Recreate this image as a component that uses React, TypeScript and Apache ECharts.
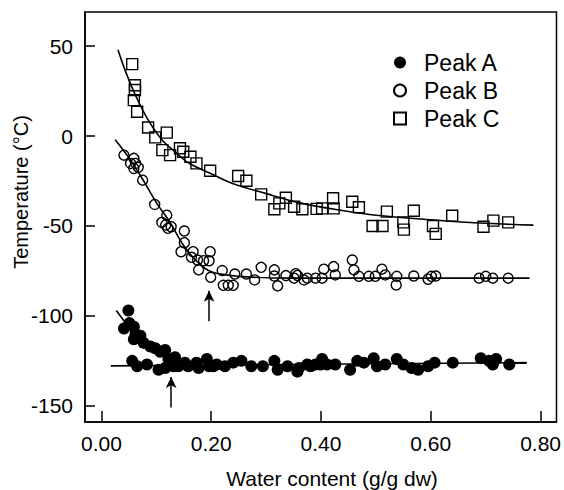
import React, { useEffect, useRef } from "react";
import * as echarts from "echarts";

const xTicks = [0, 0.2, 0.4, 0.6, 0.8];
const yTicks = [50, 0, -50, -100, -150];

const peakA: number[][] = [
  [0.049, -97], [0.041, -107], [0.051, -104], [0.059, -106], [0.062, -110], [0.071, -111],
  [0.059, -113], [0.077, -115], [0.089, -117], [0.098, -118], [0.107, -120], [0.116, -119],
  [0.122, -124], [0.134, -123],
  [0.056, -125], [0.065, -128], [0.083, -127], [0.104, -130], [0.116, -129], [0.131, -128],
  [0.140, -128], [0.152, -126], [0.158, -128], [0.173, -126], [0.177, -129], [0.192, -124],
  [0.196, -128], [0.204, -128], [0.210, -127], [0.225, -128], [0.240, -126], [0.255, -125],
  [0.273, -128], [0.294, -128], [0.315, -125], [0.321, -130], [0.339, -128], [0.357, -131],
  [0.360, -129], [0.375, -127], [0.381, -128], [0.390, -127], [0.399, -127], [0.402, -124],
  [0.411, -127], [0.426, -127], [0.453, -130], [0.466, -125], [0.478, -126], [0.496, -123.5],
  [0.502, -128], [0.517, -127], [0.538, -124], [0.550, -127], [0.565, -129], [0.577, -130],
  [0.595, -128], [0.607, -126], [0.640, -126], [0.691, -123.5], [0.706, -125], [0.713, -127],
  [0.719, -124], [0.743, -127],
];

const peakB: number[][] = [
  [0.041, -10.6], [0.059, -12.4], [0.053, -15.2], [0.062, -15.2], [0.059, -18], [0.067, -17.4],
  [0.075, -24.5], [0.097, -38], [0.119, -44], [0.110, -48], [0.117, -49.4], [0.127, -50.4],
  [0.121, -51.3], [0.151, -52.8], [0.151, -59.3], [0.145, -64.3], [0.167, -64.3], [0.164, -67.4],
  [0.175, -68.9], [0.186, -69.3], [0.198, -64.3], [0.196, -69.3], [0.177, -74.4], [0.199, -78.5],
  [0.220, -74.8], [0.222, -83], [0.231, -83], [0.240, -83], [0.243, -76.7], [0.264, -76.7],
  [0.279, -80], [0.291, -73], [0.315, -74.4], [0.315, -77.8], [0.321, -83.3], [0.336, -77.6],
  [0.354, -76.5], [0.351, -79], [0.357, -77.5], [0.369, -80], [0.375, -79], [0.390, -79],
  [0.405, -74], [0.402, -79], [0.423, -72.6], [0.426, -77.2], [0.457, -68.9], [0.460, -74.4],
  [0.469, -78], [0.487, -78], [0.499, -78], [0.511, -74], [0.517, -77.2], [0.538, -78],
  [0.537, -82.8], [0.569, -77.8], [0.595, -79.6], [0.601, -78], [0.609, -77.8], [0.688, -79],
  [0.700, -78], [0.713, -79], [0.741, -79],
];

const peakC: number[][] = [
  [0.056, 40], [0.061, 28.3], [0.061, 25.6], [0.059, 20], [0.065, 13.5], [0.085, 4.8],
  [0.098, -0.7], [0.119, 1.9], [0.111, -7.8], [0.125, -10.6], [0.143, -6.8], [0.149, -8.7],
  [0.162, -11.5], [0.173, -15.2], [0.198, -19.3], [0.249, -22.2], [0.264, -24.8], [0.291, -32.4],
  [0.336, -34.3], [0.324, -37.4], [0.315, -40.7], [0.351, -39.3], [0.366, -40.7], [0.392, -40.5],
  [0.402, -40.2], [0.422, -34.6], [0.423, -40.2], [0.457, -36.5], [0.469, -39.6], [0.494, -50],
  [0.512, -50], [0.520, -42], [0.550, -48], [0.551, -52], [0.569, -41.5], [0.604, -50],
  [0.609, -54.4], [0.639, -44.3], [0.696, -50.4], [0.714, -47], [0.741, -48],
];

const fitAFlat: number[][] = [[0.017, -127.8], [0.775, -126]];
const fitADrop: number[][] = [[0.027, -97], [0.05, -106], [0.08, -115], [0.11, -122], [0.135, -127.5]];
const fitB: number[][] = [
  [0.025, -2], [0.05, -12], [0.075, -24], [0.10, -37], [0.125, -48], [0.15, -61],
  [0.175, -70], [0.20, -75.5], [0.25, -78], [0.35, -79], [0.50, -79], [0.78, -79],
];
const fitC: number[][] = [
  [0.030, 48], [0.045, 35], [0.063, 22], [0.085, 9], [0.110, -2], [0.135, -9], [0.159, -15],
  [0.20, -21], [0.24, -26.5], [0.30, -32], [0.36, -37], [0.43, -41], [0.50, -44],
  [0.60, -46.5], [0.70, -48.5], [0.787, -49.5],
];

const arrowA: number[][] = [[0.127, -151], [0.127, -134]];
const arrowB: number[][] = [[0.196, -103], [0.196, -86]];

const FONT = "'Liberation Sans', Arial, Helvetica, sans-serif";

export default function App() {
  const ref = useRef<HTMLDivElement>(null);
  useEffect(() => {
    if (!ref.current) return;
    const chart = echarts.init(ref.current, undefined, { renderer: "svg" });
    const fitLine = (name: string, data: number[][], extra: any = {}) => ({
      name,
      type: "line",
      data,
      smooth: 0.35,
      showSymbol: false,
      symbol: "none",
      silent: true,
      lineStyle: { color: "#000", width: 1.6 },
      z: 2,
      ...extra,
    });
    const arrowMark = (pts: number[][]) => ({
      silent: true,
      symbol: ["none", "arrow"],
      symbolSize: [8, 11],
      label: { show: false },
      lineStyle: { color: "#000", width: 1.5, type: "solid" },
      data: [[{ coord: pts[0] }, { coord: pts[1] }]],
    });
    chart.setOption({
      animation: false,
      backgroundColor: "#fff",
      textStyle: { fontFamily: FONT },
      grid: {
        left: 85,
        top: 12,
        right: 3,
        bottom: 68,
        show: true,
        borderColor: "#000",
        borderWidth: 1.5,
        backgroundColor: "transparent",
      },
      legend: {
        orient: "vertical",
        left: 388,
        top: 46,
        itemWidth: 12,
        itemHeight: 12,
        itemGap: 5,
        data: ["Peak A", "Peak B", "Peak C"],
        textStyle: { fontSize: 23, color: "#000", fontFamily: FONT, padding: [0, 0, 0, 13], lineHeight: 18 },
        selectedMode: false,
      },
      xAxis: {
        type: "value",
        min: -0.03,
        max: 0.829,
        axisLine: { onZero: false, lineStyle: { color: "#000", width: 1.5 } },
        axisTick: { inside: true, length: 11, customValues: xTicks, lineStyle: { color: "#000", width: 1.5 } },
        axisLabel: {
          customValues: xTicks,
          formatter: (v: number) => v.toFixed(2),
          fontSize: 21,
          color: "#000",
          margin: 11,
          fontFamily: FONT,
        },
        splitLine: { show: false },
      },
      yAxis: {
        type: "value",
        min: -159,
        max: 69,
        axisLine: { onZero: false, lineStyle: { color: "#000", width: 1.5 } },
        axisTick: { inside: true, length: 10, customValues: yTicks, lineStyle: { color: "#000", width: 1.5 } },
        axisLabel: {
          customValues: yTicks,
          formatter: (v: number) => String(v),
          fontSize: 21,
          color: "#000",
          margin: 12,
          fontFamily: FONT,
        },
        splitLine: { show: false },
      },
      graphic: [
        {
          type: "text",
          x: 332,
          y: 478,
          style: {
            text: "Water content (g/g dw)",
            fontSize: 21,
            fontFamily: FONT,
            fill: "#000",
            align: "center",
            verticalAlign: "middle",
          },
        },
        {
          type: "text",
          x: 21,
          y: 192,
          rotation: Math.PI / 2,
          style: {
            text: "Temperature (°C)",
            fontSize: 20,
            fontFamily: FONT,
            fill: "#000",
            align: "center",
            verticalAlign: "middle",
          },
        },
      ],
      series: [
        fitLine("fitAFlat", fitAFlat, { smooth: false, markLine: arrowMark(arrowA) }),
        fitLine("fitADrop", fitADrop),
        fitLine("fitB", fitB, { markLine: arrowMark(arrowB) }),
        fitLine("fitC", fitC),
        {
          name: "Peak A",
          type: "scatter",
          data: peakA,
          symbol: "circle",
          symbolSize: 12,
          itemStyle: { color: "#000", borderColor: "#000", borderWidth: 0, opacity: 1 },
          z: 3,
        },
        {
          name: "Peak B",
          type: "scatter",
          data: peakB,
          symbol: "circle",
          symbolSize: 10,
          itemStyle: { color: "rgba(255,255,255,0)", borderColor: "#000", borderWidth: 1.4, opacity: 1 },
          z: 3,
        },
        {
          name: "Peak C",
          type: "scatter",
          data: peakC,
          symbol: "rect",
          symbolSize: 11,
          itemStyle: { color: "rgba(255,255,255,0)", borderColor: "#000", borderWidth: 1.4, opacity: 1 },
          z: 3,
        },
      ],
    });
    return () => chart.dispose();
  }, []);
  return (
    <div
      ref={ref}
      style={{ position: "fixed", left: 0, top: 0, width: 564, height: 490, background: "#fff" }}
    />
  );
}
